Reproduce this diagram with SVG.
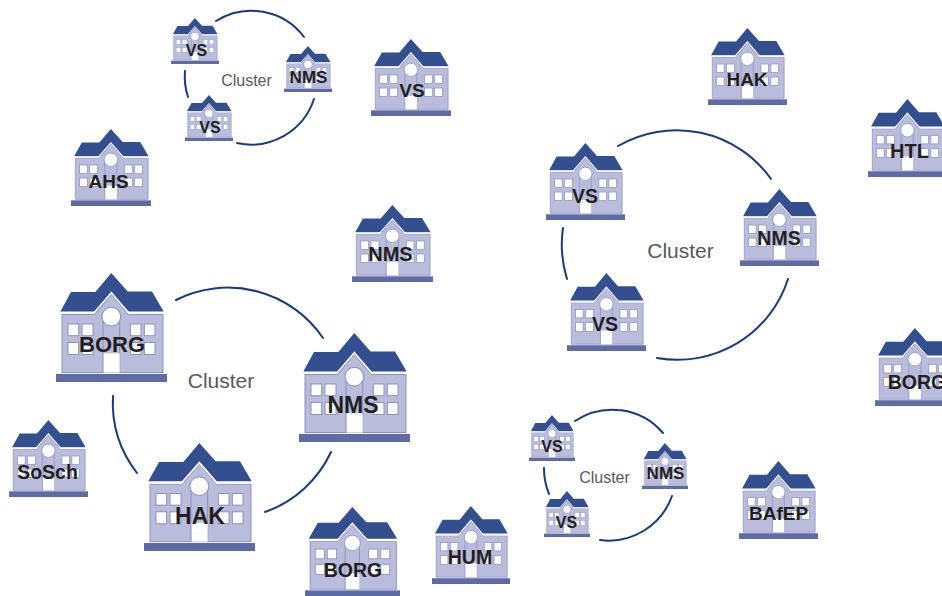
<svg xmlns="http://www.w3.org/2000/svg" xmlns:xlink="http://www.w3.org/1999/xlink" width="942" height="596" viewBox="0 0 942 596">
<style>
text{font-family:"Liberation Sans",Arial,sans-serif;text-anchor:middle}
.l{font-weight:700;fill:#231f20}
.c{fill:#58595b}
.a{fill:none;stroke:#1b3a7c;stroke-width:2;stroke-linecap:round}
</style>
<defs>
<symbol id="s" viewBox="47 25 333 325" preserveAspectRatio="none">
<rect x="47" y="326" width="333" height="24" fill="#5f6ba5"/>
<path d="M60 140 92 82H165L213 25 262 80H335L370 140Z" fill="#334f90"/>
<path d="M65 149H162L213 88 265 149H368V322H65Z" fill="#b9bcdb" stroke="#8a90c0" stroke-width="3"/>
<path d="M60 145H160L213 84 266 145H370" fill="none" stroke="#fff" stroke-width="5"/>
<path d="M188 150V322M238 150V322" fill="none" stroke="#8a90c0" stroke-width="3"/>
<rect x="190" y="265" width="48" height="57" fill="#fff"/>
<circle cx="213" cy="155" r="28" fill="#fff" stroke="#8a90c0" stroke-width="3"/>
<g fill="#fff" stroke="#8a90c0" stroke-width="3">
<rect x="83" y="177" width="32" height="35"/><rect x="125" y="177" width="33" height="35"/>
<rect x="83" y="232" width="32" height="36"/><rect x="125" y="232" width="33" height="36"/>
<rect x="270" y="177" width="32" height="35"/><rect x="312" y="177" width="32" height="35"/>
<rect x="270" y="232" width="32" height="36"/><rect x="312" y="232" width="32" height="36"/>
</g>
</symbol>
</defs>
<g id="connectors">
<path class="a" d="M176 300A115 115 0 0 1 323 338"/>
<path class="a" d="M331 452A115 115 0 0 1 265 512"/>
<path class="a" d="M137 473A115 115 0 0 1 113 396"/>
<path class="a" d="M618 146A116 116 0 0 1 771 179"/>
<path class="a" d="M788 279A116 116 0 0 1 657 358"/>
<path class="a" d="M567 279A116 116 0 0 1 563 228"/>
<path class="a" d="M216 21A66 66 0 0 1 304 37"/>
<path class="a" d="M314 99A66 66 0 0 1 237 143"/>
<path class="a" d="M188 97A66 66 0 0 1 185 71"/>
<path class="a" d="M575 421A67 67 0 0 1 663 433"/>
<path class="a" d="M672 496A67 67 0 0 1 600 540"/>
<path class="a" d="M549 494A67 67 0 0 1 544 468"/>
</g>
<g id="n1"><use href="#s" x="56" y="273" width="111" height="109"/><text class="l" x="112" y="352" font-size="22">BORG</text></g>
<g id="n2"><use href="#s" x="299" y="333" width="111" height="109"/><text class="l" x="353" y="413" font-size="23">NMS</text></g>
<g id="n3"><use href="#s" x="144" y="443" width="111" height="108"/><text class="l" x="200" y="524" font-size="23">HAK</text></g>
<g id="n4"><use href="#s" x="371" y="39" width="80" height="77"/><text class="l" x="412" y="97" font-size="19">VS</text></g>
<g id="n5"><use href="#s" x="71" y="129" width="80" height="77"/><text class="l" x="108.500" y="188" font-size="19">AHS</text></g>
<g id="n6"><use href="#s" x="352" y="205" width="81" height="77"/><text class="l" x="390.500" y="261" font-size="20">NMS</text></g>
<g id="n7"><use href="#s" x="9" y="420" width="79" height="77"/><text class="l" x="47.500" y="479" font-size="19.500">SoSch</text></g>
<g id="n8"><use href="#s" x="305" y="507" width="95" height="90"/><text class="l" x="353" y="577" font-size="19.500">BORG</text></g>
<g id="n9"><use href="#s" x="432" y="506" width="78" height="78"/><text class="l" x="470" y="564" font-size="19.500">HUM</text></g>
<g id="n10"><use href="#s" x="708" y="28" width="79" height="77"/><text class="l" x="747" y="86" font-size="19">HAK</text></g>
<g id="n11"><use href="#s" x="868" y="99" width="79" height="78"/><text class="l" x="909.500" y="158" font-size="20">HTL</text></g>
<g id="n12"><use href="#s" x="546" y="143" width="79" height="77"/><text class="l" x="585" y="203" font-size="19.500">VS</text></g>
<g id="n13"><use href="#s" x="740" y="189" width="79" height="77"/><text class="l" x="779" y="245" font-size="19.500">NMS</text></g>
<g id="n14"><use href="#s" x="567" y="273" width="79" height="78"/><text class="l" x="605" y="331" font-size="19.500">VS</text></g>
<g id="n15"><use href="#s" x="875" y="328" width="80" height="78"/><text class="l" x="917" y="389" font-size="19.500">BORG</text></g>
<g id="n16"><use href="#s" x="739" y="461" width="79" height="78"/><text class="l" x="778.500" y="520" font-size="19">BAfEP</text></g>
<g id="n17"><use href="#s" x="171" y="18" width="48" height="46"/><text class="l" x="196.500" y="56" font-size="16">VS</text></g>
<g id="n18"><use href="#s" x="284" y="46" width="48" height="46"/><text class="l" x="308.500" y="83" font-size="17">NMS</text></g>
<g id="n19"><use href="#s" x="185" y="95" width="48" height="46"/><text class="l" x="210" y="133" font-size="16">VS</text></g>
<g id="n20"><use href="#s" x="529" y="415" width="46" height="46"/><text class="l" x="552" y="452" font-size="16">VS</text></g>
<g id="n21"><use href="#s" x="642" y="443" width="46" height="46"/><text class="l" x="665.500" y="479" font-size="17">NMS</text></g>
<g id="n22"><use href="#s" x="544" y="491" width="46" height="46"/><text class="l" x="566.500" y="528" font-size="16">VS</text></g>
<text class="c" x="221" y="388" font-size="21">Cluster</text>
<text class="c" x="680.500" y="258" font-size="21">Cluster</text>
<text class="c" x="246.500" y="86" font-size="16">Cluster</text>
<text class="c" x="604.500" y="483" font-size="16">Cluster</text>
</svg>
